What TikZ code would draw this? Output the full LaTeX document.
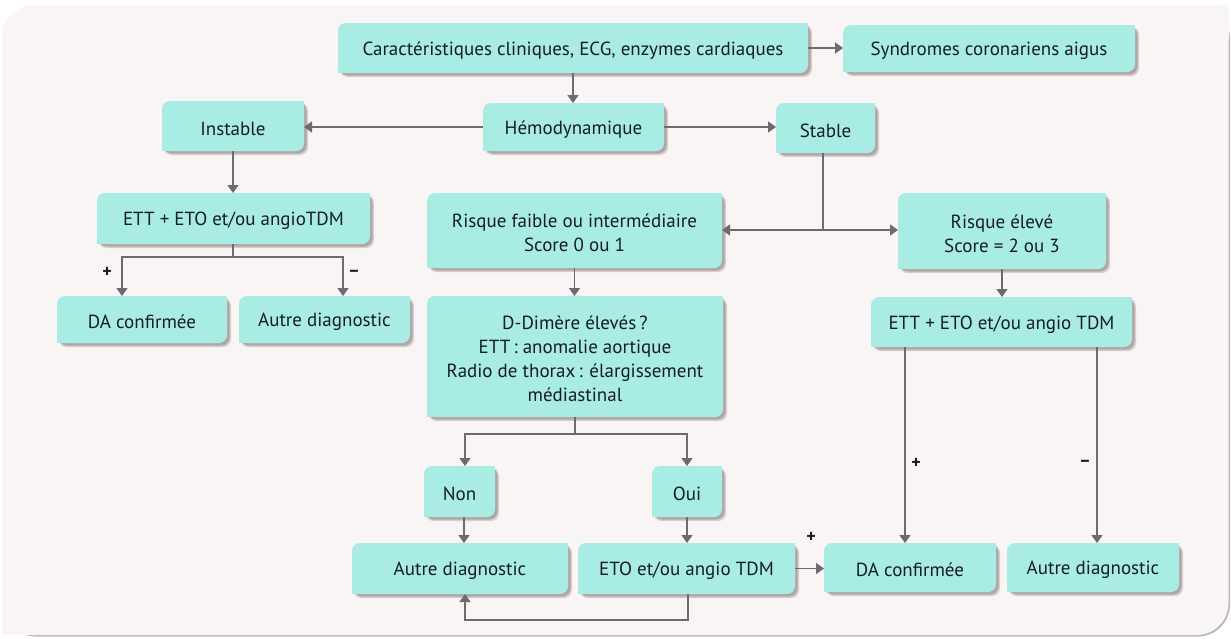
\documentclass[tikz,border=0pt]{standalone}
\usepackage{fontspec}
\setmainfont{PT Sans}
\usetikzlibrary{arrows.meta,calc}
\definecolor{panel}{HTML}{F9F5F4}
\definecolor{boxc}{HTML}{A8ECE4}
\definecolor{txt}{HTML}{161C2C}
\definecolor{arr}{HTML}{6B6B70}
\definecolor{shad}{HTML}{6A5F5F}
\newcommand\leafbox[6]{%
  \fill[shad, opacity=0.25, rounded corners=8] (#2+1.5,#3+1.5) rectangle (#4+4,#5+4);
  \fill[shad, opacity=0.35, rounded corners=8] (#2+2,#3+2) rectangle (#4+2.5,#5+2.5);
  \fill[boxc, rounded corners=8] (#2,#3) rectangle (#4,#5);
  \fill[boxc] (#4-8,#3) rectangle (#4,#3+8);
  \fill[boxc] (#2,#5-8) rectangle (#2+8,#5);
  \node[inner sep=0pt, outer sep=0pt, minimum width={(#4-#2)*1pt}, minimum height={(#5-#3)*1pt},
        label={[boxtext, yshift=-2.5pt]center:#6}] (#1) at ({(#2+#4)/2},{(#3+#5)/2}) {};
}
\begin{document}
\begin{tikzpicture}[x=1pt,y=-1pt,
  conn/.style={draw=arr, line width=1.5pt, -{Triangle[width=11pt,length=8pt]}},
  plain/.style={draw=arr, line width=1.5pt},
  boxtext/.style={text=txt, align=center, inner sep=0pt, outer sep=0pt, font=\fontsize{19}{24}\selectfont},
  sign/.style={text=txt, font=\fontsize{18}{18}\selectfont\bfseries, inner sep=0pt}]
\useasboundingbox (0,0) rectangle (1231,638);
\fill[white] (0,0) rectangle (1231,638);
% panel
\fill[gray!55, rounded corners=32] (3.5,6.5) rectangle (1230,636.5);
\fill[panel, rounded corners=32] (2,5) rectangle (1228.5,635);
\fill[panel] (1195,5) rectangle (1228.5,40);
\fill[panel] (2,600) rectangle (40,635);
% boxes
\leafbox{car}{338}{23}{808}{73}{Caractéristiques cliniques, ECG, enzymes cardiaques}
\leafbox{syn}{843}{25}{1135}{72}{Syndromes coronariens aigus}
\leafbox{hemo}{483}{103}{664}{151}{Hémodynamique}
\leafbox{stab}{776}{103}{875}{153}{Stable}
\leafbox{inst}{162}{101}{304}{151}{Instable}
\leafbox{ettL}{97}{193}{370}{244}{ETT + ETO et/ou angioTDM}
\leafbox{daL}{57}{296}{227}{343}{DA confirmée}
\leafbox{autL}{239}{296}{410}{343}{Autre diagnostic}
\leafbox{rf}{427}{193}{722}{268}{Risque faible ou intermédiaire\\Score 0 ou 1}
\leafbox{dd}{427}{296}{723}{417}{D-Dimère élevés\,?\\ETT\,: anomalie aortique\\Radio de thorax\,: élargissement\\médiastinal}
\leafbox{re}{898}{193}{1106}{269}{Risque élevé\\Score = 2 ou 3}
\leafbox{ettR}{871}{297}{1132}{347}{ETT + ETO et/ou angio TDM}
\leafbox{non}{424}{466}{495}{517}{Non}
\leafbox{oui}{652}{466}{722}{517}{Oui}
\leafbox{autB}{352}{543}{568}{594}{Autre diagnostic}
\leafbox{eto}{578}{543}{795}{594}{ETO et/ou angio TDM}
\leafbox{daB}{824}{543}{996}{592}{DA confirmée}
\leafbox{autR}{1007}{543}{1179}{592}{Autre diagnostic}
% coordinates
\coordinate (jL0) at (233,257);
\coordinate (jL1) at (122,257);
\coordinate (jL2) at (343,257);
\coordinate (js) at (823,230);
\coordinate (jd0) at (575,434);
\coordinate (jd1) at (465,434);
\coordinate (jd2) at (687,434);
\coordinate (xn) at (464,530);
\coordinate (lp1) at (688,620);
\coordinate (lp2) at (465,620);
\coordinate (xr1) at (905,400);
\coordinate (xr2) at (1097,400);
% connectors
\draw[conn] (car.east |- 0,48) -- (syn.west |- 0,48);
\draw[conn] (car.south) -- (car.south |- hemo.north);
\draw[conn] (hemo.west) -- (hemo.west -| inst.east);
\draw[conn] (hemo.east) -- (hemo.east -| stab.west);
\draw[conn] (inst.south) -- (inst.south |- ettL.north);
\draw[plain] (ettL.south -| jL0) -- (jL0);
\draw[conn] (jL0) -- (jL1) -- (jL1 |- daL.north);
\draw[conn] (jL0) -- (jL2) -- (jL2 |- autL.north);
\draw[plain] (stab.south -| js) -- (js);
\draw[conn] (js) -- (js -| rf.east);
\draw[conn] (js) -- (js -| re.west);
\draw[conn] (rf.south) -- (rf.south |- dd.north);
\draw[plain] (dd.south -| jd0) -- (jd0);
\draw[conn] (jd0) -- (jd1) -- (jd1 |- non.north);
\draw[conn] (jd0) -- (jd2) -- (jd2 |- oui.north);
\draw[conn] (non.south -| xn) -- (xn |- autB.north);
\draw[conn] (oui.south -| jd2) -- (jd2 |- eto.north);
\draw[conn] (eto.east) -- (eto.east -| daB.west);
\draw[conn] (eto.south -| lp1) -- (lp1) -- (lp2) -- (lp2 |- autB.south);
\draw[conn] (re.south) -- (re.south |- ettR.north);
\draw[conn] (ettR.south -| xr1) -- (xr1 |- daB.north);
\draw[conn] (ettR.south -| xr2) -- (xr2 |- autR.north);
% signs
\node[sign] (s1) at (107,272) {+};
\node[sign] (s2) at (354,273) {\textendash};
\node[sign] (s3) at (916,463) {+};
\node[sign] (s4) at (1085,463) {\textendash};
\node[sign] (s5) at (811,537) {+};
\end{tikzpicture}
\end{document}
